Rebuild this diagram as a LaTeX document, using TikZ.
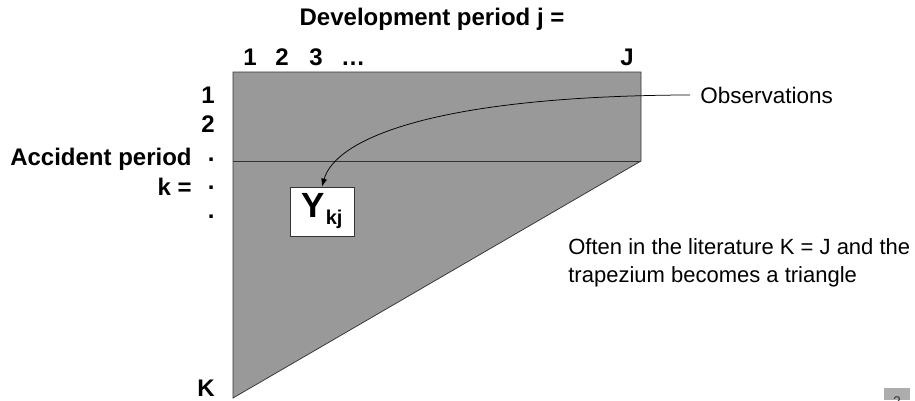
\documentclass[tikz,border=0pt]{standalone}
\usepackage{fontspec}
\setmainfont{Liberation Sans}
\usetikzlibrary{arrows.meta,positioning}
\definecolor{trapgray}{HTML}{999999}
\definecolor{edgegray}{HTML}{333333}
\tikzset{every picture/.style={line width=0.75pt}}
\tikzset{
  lbl/.style={font=\fontsize{24}{28}\selectfont\bfseries, inner sep=0pt},
  txt/.style={font=\fontsize{22.5}{28}\selectfont, inner sep=0pt},
}

\begin{document}
\begin{tikzpicture}[x=1pt,y=-1pt]
\useasboundingbox (0,0) rectangle (915,400);
% trapezium of observations
\draw[fill=trapgray, draw=edgegray] (233,72) -- (641,72) -- (641,161) -- (233,398) -- cycle;
\draw[edgegray] (233,161) -- (641,161);
% development periods
\node[lbl, anchor=base] (dev) at (432,25) {Development period j =};
\node[lbl, anchor=base] (c1) at (250,65) {1};
\node[lbl, anchor=base] (c2) at (282,65) {2};
\node[lbl, anchor=base] (c3) at (316,65) {3};
\node[lbl, anchor=base] (cdots) at (353,65) {\dots};
\node[lbl, anchor=base] (cJ) at (627,65) {J};
% accident periods
\node[lbl, anchor=base east] (r1) at (215,103) {1};
\node[lbl, anchor=base east] (r2) at (215,132) {2};
\node[lbl, anchor=base east] (d1) at (215,161.5) {.};
\node[lbl, anchor=base east] (d2) at (215,189.5) {.};
\node[lbl, anchor=base east] (d3) at (215,218.5) {.};
\node[lbl, anchor=base east] (acc) at (192,165) {Accident period};
\node[lbl, anchor=base east] (keq) at (192,195) {k =};
\node[lbl, anchor=base east] (rK) at (215,396) {K};
% one cell
\node[draw=edgegray, fill=white, minimum width=64pt, minimum height=49pt, inner sep=0pt,
  font=\bfseries] (ykj) at (322,211.5)
  {\fontsize{35}{40}\selectfont Y\kern1pt\raisebox{-7pt}{\fontsize{20}{24}\selectfont kj}};
% notes
\node[txt, anchor=base west] (obs) at (700,103) {Observations};
\draw[-{Latex[length=8pt,width=6pt]}] ([xshift=-10pt]obs.west) .. controls (430,96) and (335,140) .. (ykj.north);
\node[txt, anchor=base west, align=left, font=\fontsize{22}{28}\selectfont] (note) at (568,282)
  {Often in the literature K = J and the\\trapezium becomes a triangle};
% page number, cut off
\begin{scope}
\clip (884,388) rectangle (915,400);
\fill[trapgray!80] (884,388) rectangle (910,400);
\node[font=\fontsize{14}{16}\selectfont, text=edgegray, anchor=base] (page) at (897,406) {2};
\end{scope}
\end{tikzpicture}
\end{document}
